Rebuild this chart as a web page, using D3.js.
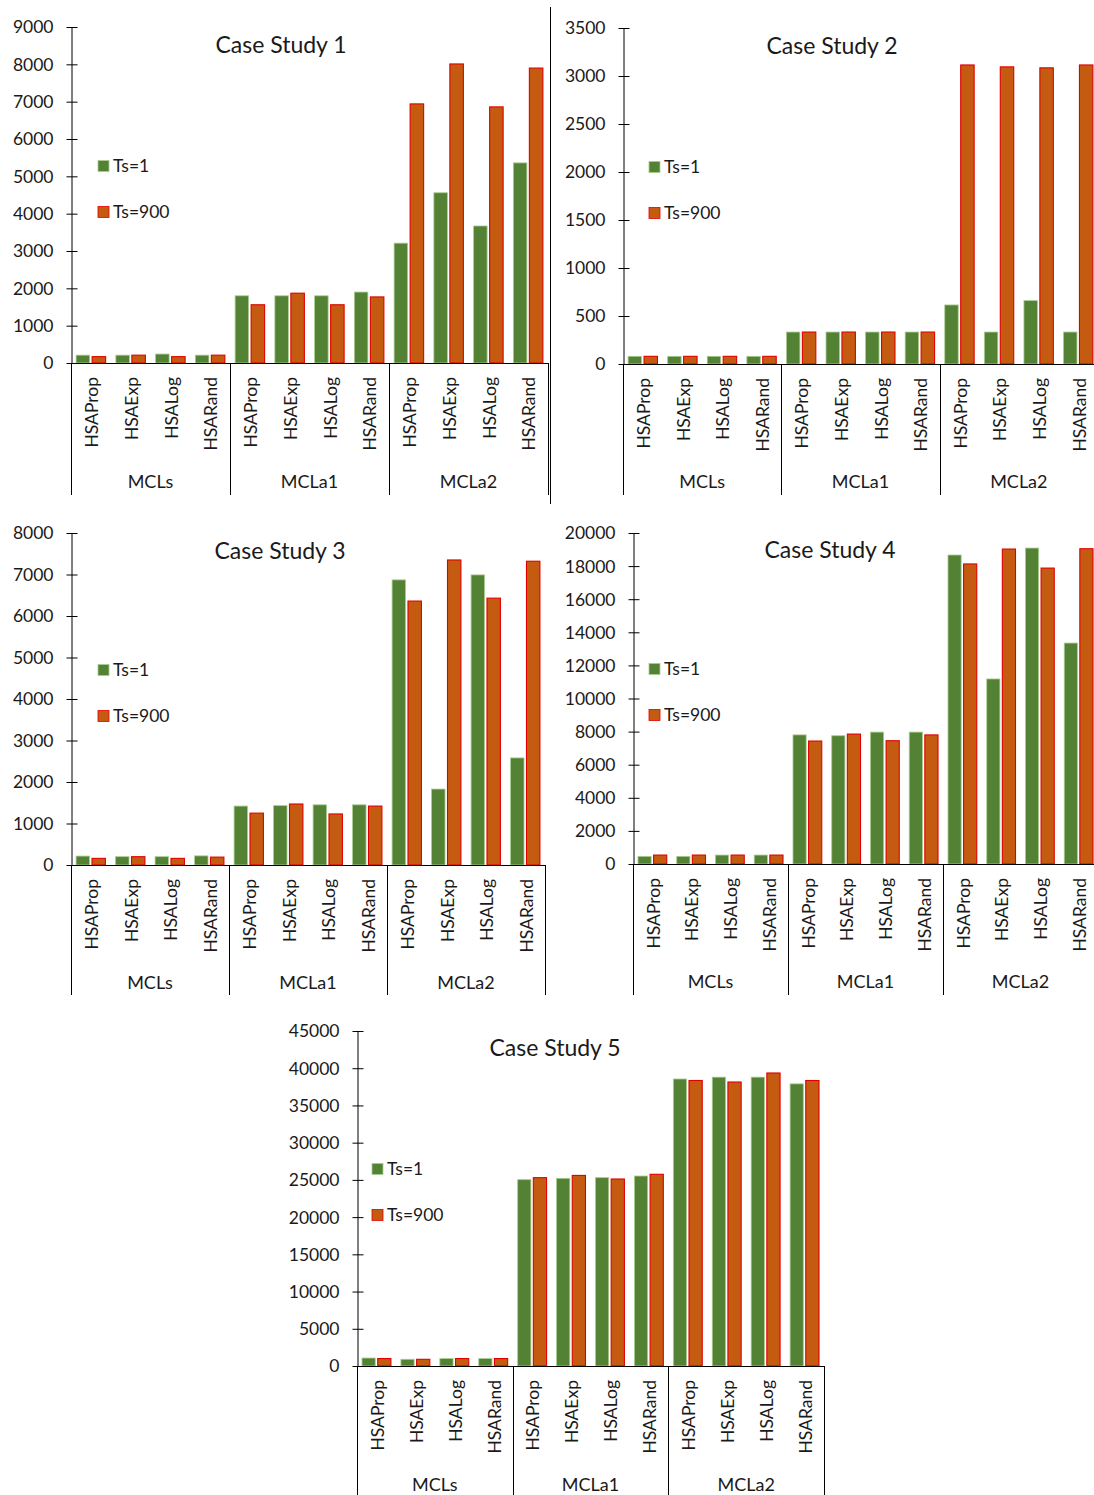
<!DOCTYPE html>
<html>
<head>
<meta charset="utf-8">
<script src="https://cdn.jsdelivr.net/npm/d3@7"></script>
<style>
  body { margin: 0; background: #fff; }
  text { font-family: Lato, "Open Sans", sans-serif; fill: #1a1a1a; }
</style>
</head>
<body>
<div id="chart"></div>
<script>
const groups = ["MCLs", "MCLa1", "MCLa2"];
const methods = ["HSAProp", "HSAExp", "HSALog", "HSARand"];
const seriesNames = ["Ts=1", "Ts=900"];

// values per case study, order: MCLs x4, MCLa1 x4, MCLa2 x4
const cs1Ts1   = [210, 210, 240, 210, 1800, 1800, 1800, 1900, 3210, 4560, 3670, 5360];
const cs1Ts900 = [170, 210, 170, 210, 1560, 1870, 1560, 1770, 6940, 8010, 6860, 7900];
const cs2Ts1   = [80, 80, 80, 80, 333, 333, 333, 333, 615, 333, 660, 333];
const cs2Ts900 = [80, 80, 80, 80, 333, 333, 333, 333, 3115, 3095, 3085, 3115];
const cs3Ts1   = [215, 200, 200, 220, 1420, 1430, 1450, 1450, 6870, 1830, 6990, 2580];
const cs3Ts900 = [160, 200, 160, 190, 1250, 1470, 1230, 1420, 6360, 7350, 6430, 7320];
const cs4Ts1   = [460, 460, 540, 540, 7800, 7750, 7970, 7970, 18670, 11180, 19090, 13350];
const cs4Ts900 = [540, 540, 540, 540, 7430, 7850, 7450, 7800, 18130, 19030, 17880, 19050];
const cs5Ts1   = [1070, 900, 1000, 1000, 25030, 25210, 25300, 25520, 38550, 38800, 38800, 37900];
const cs5Ts900 = [1000, 900, 1000, 1000, 25300, 25600, 25120, 25750, 38350, 38150, 39360, 38350];

// axis maxima and tick steps
const yMax  = [9000, 3500, 8000, 20000, 45000];
const yStep = [1000, 500, 1000, 2000, 5000];

const width = 1094;
const height = 1495;
const green = "#548235";
const orange = "#c55a11";

const svg = d3.select("#chart").append("svg")
  .attr("width", width)
  .attr("height", height)
  .style("background", "white");

// layout for each panel
const panels = [
  { title: "Case Study 1", a: cs1Ts1, b: cs1Ts900, left: 71, right: 548, top: 27, bottom: 363, sepBottom: 495, groupY: 482, titleX: 281, titleY: 53, legX: 98, legY: 166 },
  { title: "Case Study 2", a: cs2Ts1, b: cs2Ts900, left: 623, right: 1098, top: 28, bottom: 364, sepBottom: 495, groupY: 482, titleX: 832, titleY: 54, legX: 649, legY: 167 },
  { title: "Case Study 3", a: cs3Ts1, b: cs3Ts900, left: 71, right: 545, top: 533, bottom: 865, sepBottom: 995, groupY: 983, titleX: 280, titleY: 559, legX: 98, legY: 670 },
  { title: "Case Study 4", a: cs4Ts1, b: cs4Ts900, left: 633, right: 1098, top: 533, bottom: 864, sepBottom: 995, groupY: 982, titleX: 830, titleY: 558, legX: 649, legY: 669 },
  { title: "Case Study 5", a: cs5Ts1, b: cs5Ts900, left: 357, right: 824, top: 1031, bottom: 1366, sepBottom: 1495, groupY: 1485, titleX: 555, titleY: 1056, legX: 372, legY: 1169 }
];

// panel 1 outer border on the right
svg.append("line")
  .attr("x1", 550.5).attr("x2", 550.5)
  .attr("y1", 7).attr("y2", 504)
  .attr("stroke", "#000").attr("stroke-width", 1);

panels.forEach((p, i) => {
  const g = svg.append("g");
  const keys = groups.flatMap(gr => methods.map(m => gr + "|" + m));

  const y = d3.scaleLinear().domain([0, yMax[i]]).range([p.bottom, p.top]);
  const x0 = d3.scaleBand().domain(keys).range([p.left, p.right]);
  const x1 = d3.scaleBand().domain(seriesNames)
    .range([0, x0.bandwidth()])
    .paddingInner(0.156)
    .paddingOuter(0.32);
  const xg = d3.scaleBand().domain(groups).range([p.left, p.right]);

  const rows = keys.map((k, j) => ({ key: k, method: methods[j % 4], values: [p.a[j], p.b[j]] }));

  // bars
  const cat = g.selectAll("g.cat").data(rows).join("g")
    .attr("class", "cat")
    .attr("transform", d => `translate(${x0(d.key)},0)`);

  cat.selectAll("rect")
    .data(d => d.values.map((v, s) => ({ s, v })))
    .join("rect")
    .attr("x", d => x1(seriesNames[d.s]))
    .attr("y", d => y(d.v))
    .attr("width", x1.bandwidth())
    .attr("height", d => y(0) - y(d.v))
    .attr("fill", d => d.s === 0 ? green : orange)
    .attr("stroke", d => d.s === 0 ? "#a8cc90" : "#e00000")
    .attr("stroke-width", d => d.s === 0 ? 0.8 : 1.1);

  // value axis
  const yAxis = d3.axisLeft(y)
    .tickValues(d3.range(0, yMax[i] + 1, yStep[i]))
    .tickFormat(d3.format("d"))
    .tickSize(0)
    .tickPadding(18);
  const ya = g.append("g")
    .attr("transform", `translate(${p.left + 0.5},0)`)
    .call(yAxis);
  ya.select(".domain").attr("stroke", "#000");
  ya.selectAll(".tick text")
    .style("font-size", "17.5px")
    .attr("fill", "#1a1a1a")
    .attr("dy", "0.34em");
  ya.selectAll(".tick").append("line")
    .attr("x1", -5).attr("x2", 6)
    .attr("stroke", "#000");

  // category baseline
  g.append("line")
    .attr("x1", p.left).attr("x2", p.right)
    .attr("y1", p.bottom + 0.5).attr("y2", p.bottom + 0.5)
    .attr("stroke", "#000");

  // group separators
  const sepX = groups.map(gr => xg(gr)).concat([p.right]);
  g.selectAll("line.sep").data(sepX).join("line")
    .attr("class", "sep")
    .attr("x1", d => Math.round(d) + 0.5).attr("x2", d => Math.round(d) + 0.5)
    .attr("y1", p.bottom).attr("y2", p.sepBottom)
    .attr("stroke", "#000");

  // method labels
  g.selectAll("text.method").data(rows).join("text")
    .attr("class", "method")
    .attr("transform", d => `translate(${x0(d.key) + x0.bandwidth() / 2 + 1},${p.bottom + 14}) rotate(-90)`)
    .attr("text-anchor", "end")
    .attr("dy", "0.36em")
    .style("font-size", "17.5px")
    .text(d => d.method);

  // group labels
  g.selectAll("text.group").data(groups).join("text")
    .attr("class", "group")
    .attr("x", d => xg(d) + xg.bandwidth() / 2)
    .attr("y", p.groupY)
    .attr("text-anchor", "middle")
    .attr("dy", "0.35em")
    .style("font-size", "18px")
    .attr("fill", "#333")
    .text(d => d);

  // title
  g.append("text")
    .attr("x", p.titleX)
    .attr("y", p.titleY)
    .attr("text-anchor", "middle")
    .style("font-size", "23px")
    .attr("fill", "#111")
    .text(p.title);

  // legend
  const leg = g.selectAll("g.leg").data(seriesNames).join("g")
    .attr("class", "leg")
    .attr("transform", (d, s) => `translate(${p.legX},${p.legY + s * 46})`);
  leg.append("rect")
    .attr("x", 0).attr("y", -5.5)
    .attr("width", 11).attr("height", 11)
    .attr("fill", (d, s) => s === 0 ? green : orange)
    .attr("stroke", (d, s) => s === 0 ? "#a8cc90" : "#e00000")
    .attr("stroke-width", 0.8);
  leg.append("text")
    .attr("x", 15)
    .attr("dy", "0.36em")
    .style("font-size", "17.5px")
    .text(d => d);
});
</script>
</body>
</html>
